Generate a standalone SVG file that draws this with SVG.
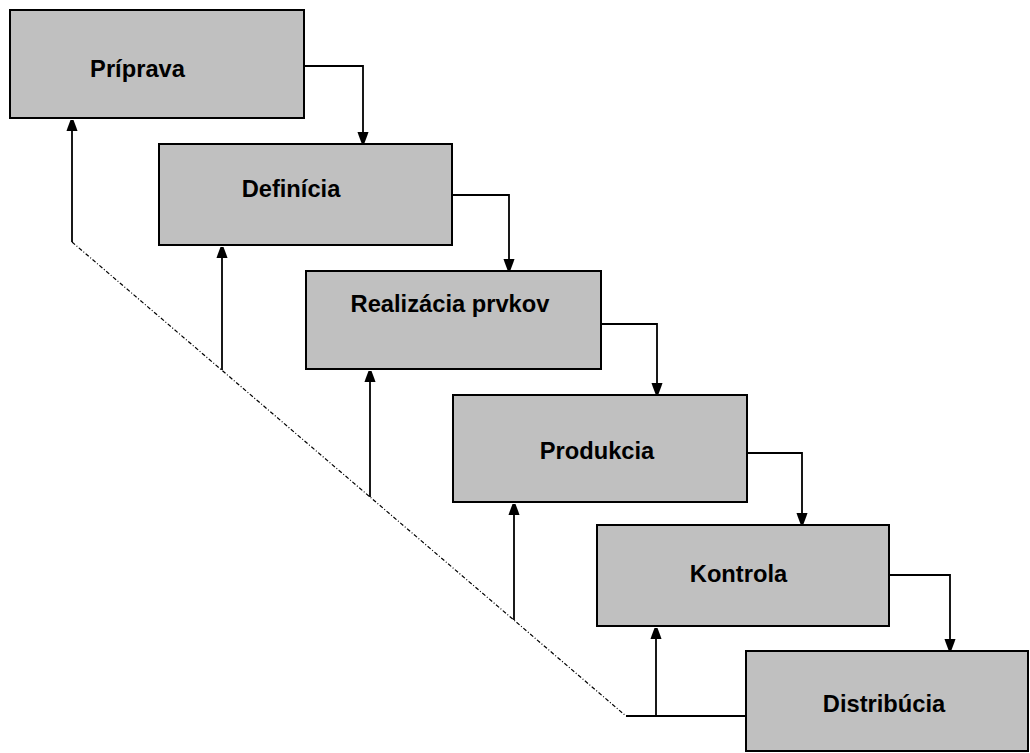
<svg xmlns="http://www.w3.org/2000/svg" width="1030" height="753" viewBox="0 0 1030 753">
  <style>
    .box { fill: #c0c0c0; stroke: #000; stroke-width: 2; }
    .label { font-family: "Liberation Sans", Arial, sans-serif; font-weight: bold; font-size: 23.7px; fill: #000; text-anchor: middle; }
    .flow { fill: none; stroke: #000; stroke-width: 1.8; }
    .arrow { marker-end: url(#head); }
    .trace { fill: none; stroke: #000; stroke-width: 1.2; stroke-dasharray: 4 2 1 2; }
  </style>
  <defs>
    <marker id="head" markerUnits="userSpaceOnUse" markerWidth="16" markerHeight="16" viewBox="-13 -8 16 16" refX="0" refY="0" orient="auto">
      <polygon points="0,-1.5 -8,-4.5 -11,-5.5 -11,5.5 -8,4.5 0,1.5" fill="#000"/>
    </marker>
  </defs>
  <rect width="1030" height="753" fill="#fff"/>

  <!-- stages, each stepping down to the right -->
  <g id="pripava">
    <rect class="box" x="10" y="10" width="294" height="108"/>
    <text class="label" x="137.5" y="77">Príprava</text>
  </g>
  <g id="definicia">
    <rect class="box" x="159" y="144" width="293" height="101"/>
    <text class="label" x="291" y="197">Definícia</text>
  </g>
  <g id="realizacia">
    <rect class="box" x="306" y="271" width="295" height="98"/>
    <text class="label" x="450" y="312">Realizácia prvkov</text>
  </g>
  <g id="produkcia">
    <rect class="box" x="453" y="395" width="294" height="107"/>
    <text class="label" x="597" y="459">Produkcia</text>
  </g>
  <g id="kontrola">
    <rect class="box" x="597" y="525" width="292" height="101"/>
    <text class="label" x="738.5" y="582">Kontrola</text>
  </g>
  <g id="distribucia">
    <rect class="box" x="746" y="651" width="282" height="100"/>
    <text class="label" x="884" y="712">Distribúcia</text>
  </g>

  <g id="connectors">
    <!-- forward steps -->
    <path class="flow arrow" d="M304,66 H363 V143"/>
    <path class="flow arrow" d="M452,195 H509 V270"/>
    <path class="flow arrow" d="M601,324 H657 V394"/>
    <path class="flow arrow" d="M747,453 H802 V524"/>
    <path class="flow arrow" d="M889,575 H950 V650"/>

    <!-- feedback path back to earlier stages -->
    <path class="trace" d="M72,242 L626,716"/>
    <path class="flow" d="M626,716 H746"/>
    <path class="flow arrow" d="M72,242 V120"/>
    <path class="flow arrow" d="M222,370 V247"/>
    <path class="flow arrow" d="M370,497 V371"/>
    <path class="flow arrow" d="M514,620 V504"/>
    <path class="flow arrow" d="M656,716 V628"/>
  </g>
</svg>
